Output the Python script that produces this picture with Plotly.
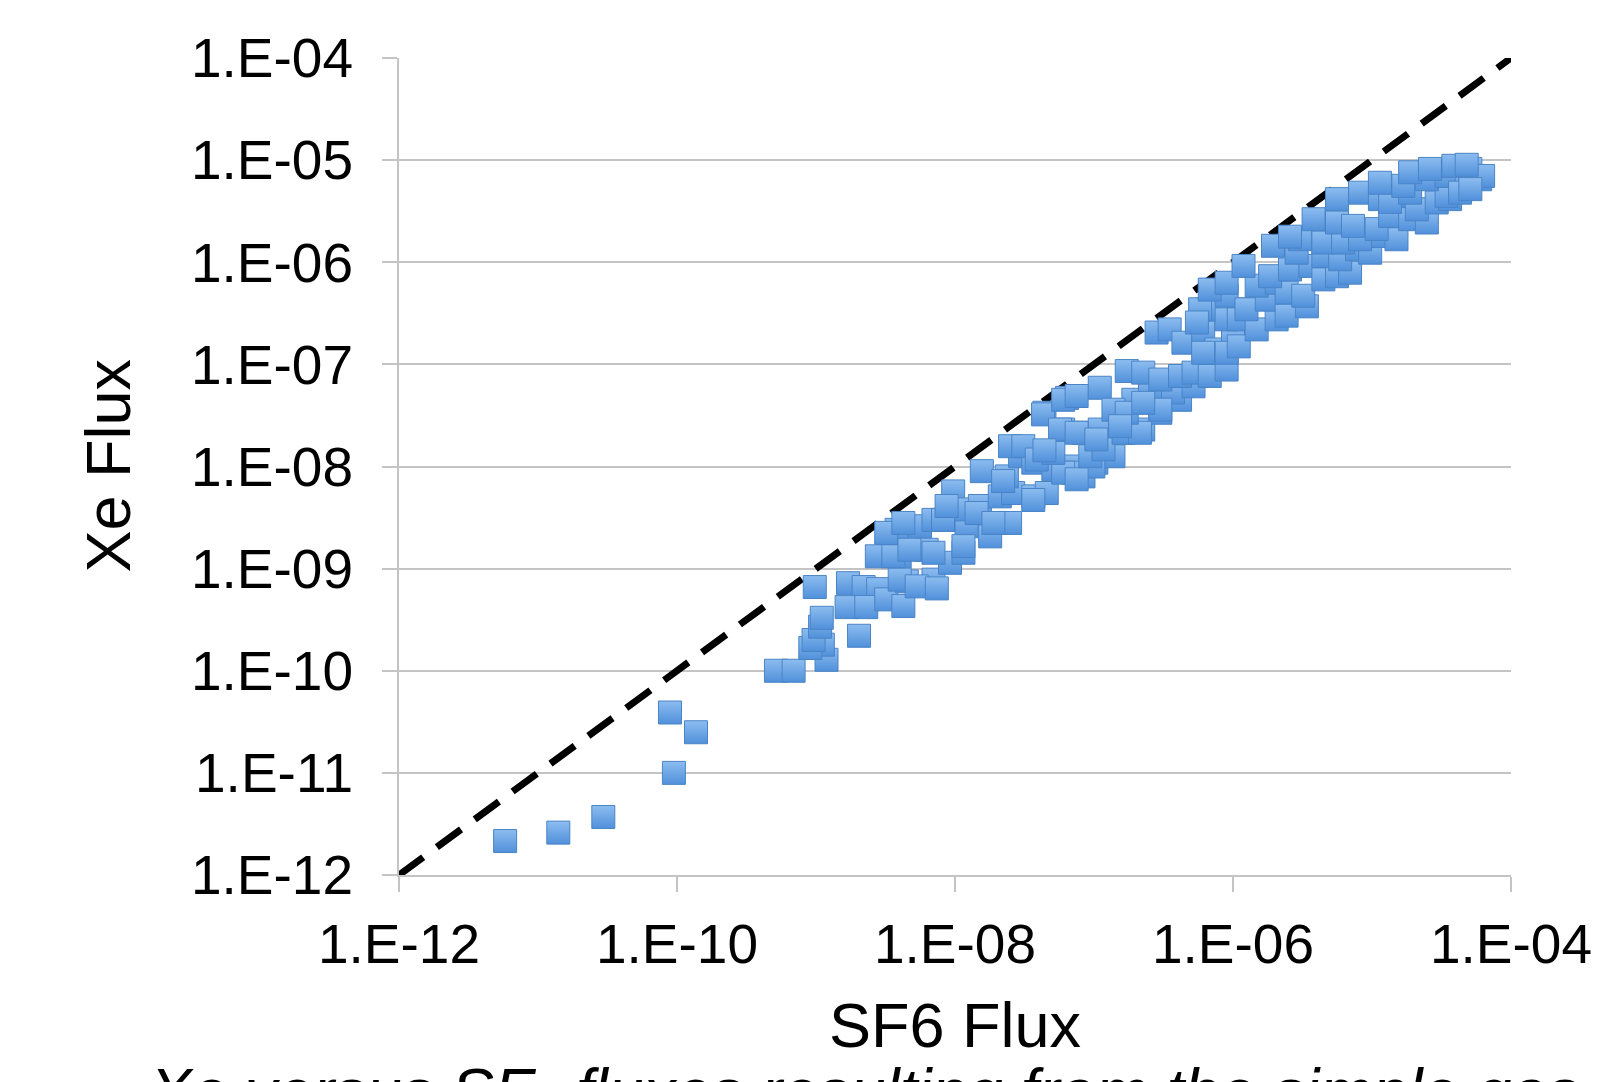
import plotly.graph_objects as go

# ---- data ----
sf6_flux = [
    5.8e-12, 1.4e-11, 2.95e-11, 8.9e-11, 1.37e-10, 9.5e-11,
    5.15e-10, 6.9e-10, 1.19e-9, 1.12e-9, 9.1e-10, 9.6e-10, 1.07e-9, 1.1e-9, 2.04e-9,
    9.8e-10, 1.7e-9, 2.2e-9, 2.8e-9, 1.66e-9, 2.3e-9, 3.2e-9,
    4.5e-9, 7.0e-9, 4.25e-9, 2.74e-9, 4.0e-9, 6.25e-9, 9.2e-9, 1.15e-8,
    3.8e-9, 5.6e-9, 7.0e-9, 9.7e-9, 1.21e-8, 1.79e-8, 2.49e-8,
    9.7e-9, 1.15e-8, 1.51e-8, 2.1e-8, 2.62e-8, 3.66e-8, 4.57e-8,
    1.56e-8, 2.36e-8, 2.94e-8, 3.66e-8, 5.1e-8, 6.7e-8, 8.4e-8, 1.04e-7,
    2.49e-8, 3.1e-8, 4.4e-8, 6.0e-8, 8.4e-8, 1.1e-7, 1.54e-7, 2.26e-7, 3.0e-7, 4.16e-7,
    6.4e-8, 1.1e-7, 1.92e-7, 2.53e-7, 3.7e-7, 5.2e-7, 1.38e-7, 9.9e-8, 7.1e-8,
    4.0e-9, 5.3e-9, 3.6e-9, 4.7e-9, 7.0e-9, 1.15e-8, 3.2e-9, 4.25e-9, 8.2e-9,
    8.7e-9, 1.43e-8, 1.89e-8, 2.22e-8, 3.66e-8, 6.0e-8, 7.5e-8,
    3.87e-8, 5.1e-8, 9.4e-8, 1.17e-7, 1.63e-7, 2.14e-7, 3.0e-7,
    4.3e-8, 6.0e-8, 7.5e-8, 1.38e-7, 1.72e-7, 2.26e-7,
    5.7e-8, 7.5e-8, 1.04e-7, 1.54e-7,
    1.72e-7, 2.26e-7, 3.0e-7, 4.16e-7, 5.2e-7, 6.8e-7, 9.0e-7,
    2.82e-7, 3.5e-7, 4.4e-7, 6.1e-7, 7.6e-7, 1.0e-6,
    6.5e-7, 9.0e-7, 1.19e-6, 5.8e-7, 1.1e-6, 6.1e-7, 9.0e-7, 1.1e-6,
    5.5e-7, 1.48e-6, 2.06e-6, 9.0e-7, 1.25e-6, 1.75e-6, 2.43e-6, 3.4e-6,
    6.8e-7, 9.0e-7, 1.48e-6, 2.06e-6, 2.43e-6, 3.2e-6,
    1.19e-6, 1.85e-6, 2.57e-6, 3.6e-6, 4.47e-6, 5.6e-6, 6.95e-6,
    1.94e-6, 2.87e-6, 4.47e-6, 5.9e-6, 7.8e-6, 9.7e-6,
    3.03e-6, 4.47e-6, 6.2e-6, 8.2e-6, 1.2e-5, 1.5e-5, 2.57e-6,
    3.8e-6, 5.6e-6, 7.3e-6, 1.08e-5, 1.35e-5, 1.88e-5, 2.48e-5,
    5.6e-6, 8.2e-6, 1.14e-5, 1.5e-5, 2.1e-5, 2.92e-5, 3.64e-5, 1.35e-5, 1.88e-5, 3.44e-5,
    1.14e-5, 1.68e-5, 2.48e-5, 3.44e-5, 4.8e-5, 6.0e-5,
    3.85e-5, 5.1e-5, 6.3e-5, 4.3e-5, 5.1e-5, 1.88e-5, 2.61e-5, 4.8e-5,
    7.4e-9, 4.4e-8,
]
xe_flux = [
    2.15e-12, 2.6e-12, 3.7e-12, 3.9e-11, 2.5e-11, 1.0e-11,
    1.0e-10, 1.0e-10, 1.28e-10, 1.8e-10, 1.67e-10, 2.0e-10, 2.7e-10, 3.3e-10, 2.2e-10,
    6.6e-10, 7.2e-10, 6.6e-10, 6.3e-10, 4.2e-10, 4.2e-10, 5.0e-10,
    7.5e-10, 7.8e-10, 4.3e-10, 1.32e-9, 1.32e-9, 1.53e-9, 1.14e-9, 1.43e-9,
    2.4e-9, 2.6e-9, 3.0e-9, 3.0e-9, 2.6e-9, 2.07e-9, 2.8e-9,
    5.7e-9, 3.8e-9, 4.1e-9, 5.1e-9, 5.5e-9, 5.1e-9, 5.5e-9,
    9.0e-9, 8.0e-9, 1.26e-8, 1.09e-8, 9.4e-9, 1.0e-8, 8.0e-9, 1.09e-8,
    1.58e-8, 1.58e-8, 3.36e-8, 2.3e-8, 2.14e-8, 2.3e-8, 2.14e-8, 2.3e-8, 3.36e-8, 4.5e-8,
    4.7e-8, 5.9e-8, 4.5e-8, 5.7e-8, 5.3e-8, 6.1e-8, 1.26e-8, 1.0e-8, 8.7e-9,
    7.8e-10, 6.7e-10, 1.32e-9, 1.53e-9, 1.43e-9, 1.66e-9, 2.24e-9, 2.8e-9, 3.0e-9,
    4.1e-9, 3.5e-9, 2.8e-9, 7.2e-9, 4.7e-9, 8.7e-9, 7.5e-9,
    1.17e-8, 1.36e-8, 1.26e-8, 1.47e-8, 2.14e-8, 2.14e-8, 3.6e-8,
    3.24e-8, 4.5e-8, 4.9e-8, 3.6e-8, 3.36e-8, 4.2e-8,
    2.3e-8, 2.14e-8, 1.84e-8, 2.48e-8,
    8.6e-8, 8.3e-8, 7.1e-8, 7.7e-8, 8.3e-8, 7.7e-8, 8.9e-8,
    2.05e-7, 2.2e-7, 1.63e-7, 2.05e-7, 1.4e-7, 1.76e-7,
    3.46e-7, 2.76e-7, 3.46e-7, 3.46e-7, 2.76e-7, 1.3e-7, 1.3e-7, 1.5e-7,
    2.57e-7, 2.2e-7, 2.76e-7, 4.7e-7, 3.46e-7, 4.3e-7, 3.0e-7, 3.7e-7,
    5.4e-7, 6.3e-7, 5.9e-7, 6.3e-7, 5.05e-7, 4.7e-7,
    9.2e-7, 7.3e-7, 8.5e-7, 9.2e-7, 6.8e-7, 7.3e-7, 7.9e-7,
    1.45e-6, 1.24e-6, 1.15e-6, 1.07e-6, 1.34e-6, 1.24e-6,
    1.68e-6, 1.56e-6, 1.56e-6, 1.68e-6, 1.81e-6, 1.68e-6, 1.78e-6,
    2.64e-6, 2.45e-6, 2.27e-6, 2.11e-6, 2.84e-6, 2.64e-6, 2.45e-6,
    4.15e-6, 4.8e-6, 4.15e-6, 4.47e-6, 3.3e-6, 3.85e-6, 4.15e-6, 3.9e-6, 4.8e-6, 4.47e-6,
    6.0e-6, 5.6e-6, 6.5e-6, 7.0e-6, 6.0e-6, 6.5e-6,
    8.8e-6, 8.2e-6, 7.0e-6, 4.8e-6, 5.2e-6, 7.6e-6, 8.2e-6, 9.0e-6,
    6.4e-10, 1.44e-8,
]
one_to_one_x = [1e-12, 1e-4]
one_to_one_y = [1e-12, 1e-4]

x_tickvals = [1e-12, 1e-10, 1e-8, 1e-6, 1e-4]
x_ticktext = ["1.E-12", "1.E-10", "1.E-08", "1.E-06", "1.E-04"]
y_tickvals = [1e-12, 1e-11, 1e-10, 1e-9, 1e-8, 1e-7, 1e-6, 1e-5, 1e-4]
y_ticktext = ["1.E-12", "1.E-11", "1.E-10", "1.E-09", "1.E-08",
              "1.E-07", "1.E-06", "1.E-05", "1.E-04"]

x_title = "SF6 Flux"
y_title = "Xe Flux"
caption = "<i>Xe versus SF<sub>6</sub> fluxes resulting from the simple gas</i>"

FONT = "Liberation Sans, Arial, Helvetica, sans-serif"
GRID = "#c4c4c4"

fig = go.Figure()
fig.add_trace(go.Scatter(
    x=one_to_one_x, y=one_to_one_y, mode="lines",
    line=dict(color="black", width=7, dash="30px,17px"),
    hoverinfo="skip", showlegend=False,
))
fig.add_trace(go.Scatter(
    x=sf6_flux, y=xe_flux, mode="markers",
    marker=dict(symbol="square", size=23, color="#8dbdf0",
                gradient=dict(type="vertical", color="#5090da"),
                line=dict(color="#4a84c6", width=1)),
    showlegend=False,
))

fig.update_layout(
    width=1606, height=1082,
    margin=dict(l=399, r=95, t=58, b=207),
    paper_bgcolor="white", plot_bgcolor="white",
    font=dict(family=FONT, color="black"),
    xaxis=dict(type="log", range=[-12, -4], tickvals=x_tickvals, ticktext=x_ticktext,
               showgrid=False, zeroline=False, showline=True, linecolor=GRID, linewidth=2,
               ticks="outside", ticklen=15, tickwidth=2, tickcolor=GRID,
               tickfont=dict(size=55, family=FONT, color="black"),
               ticklabelstandoff=5),
    yaxis=dict(type="log", range=[-12, -4], tickvals=y_tickvals, ticktext=y_ticktext,
               showgrid=True, gridcolor=GRID, gridwidth=2, zeroline=False,
               showline=True, linecolor=GRID, linewidth=2,
               ticks="outside", ticklen=15, tickwidth=2, tickcolor=GRID,
               tickfont=dict(size=55, family=FONT, color="black"),
               ticklabelstandoff=18),
    annotations=[
        dict(text=y_title, xref="paper", yref="paper", x=-0.2621, y=0.5006,
             xanchor="center", yanchor="middle", textangle=-90, showarrow=False,
             font=dict(size=63, family=FONT, color="black")),
        dict(text=x_title, xref="paper", yref="paper", x=0.5, y=-0.1836,
             xanchor="center", yanchor="middle", showarrow=False,
             font=dict(size=63, family=FONT, color="black")),
        dict(text=caption, xref="paper", yref="paper", x=0.417, y=-0.2191,
             xanchor="center", yanchor="top", showarrow=False,
             font=dict(size=64, family=FONT, color="black")),
    ],
)

fig.write_html(
    "out.html",
    config={"displayModeBar": False},
    post_script="document.body.style.margin='0';document.body.style.overflow='hidden';",
)
